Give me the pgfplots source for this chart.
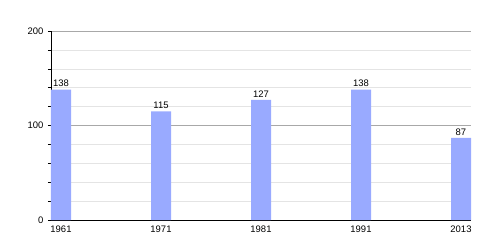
\documentclass[border=0pt]{standalone}
\usepackage{pgfplots}
\pgfplotsset{compat=1.18}
\usepackage{fontspec}
\setmainfont{Liberation Sans}
\definecolor{barblue}{HTML}{99AAFF}
\definecolor{minorgrid}{HTML}{E4E4E4}
\definecolor{majorgrid}{HTML}{A8A8A8}
\begin{document}
\begin{tikzpicture}
\begin{axis}[
  scale only axis,
  width=420bp, height=189bp,
  xmin=-0.1, xmax=4.1,
  ymin=0, ymax=200,
  xtick={0,1,2,3,4},
  xticklabels={1961,1971,1981,1991,2013},
  ytick={0,100,200},
  minor ytick={20,40,60,80,120,140,160,180},
  axis x line*=bottom,
  axis y line*=left,
  axis line style={black, line width=0.8pt},
  x axis line style={-},
  y axis line style={-},
  ymajorgrids, yminorgrids,
  major grid style={majorgrid, line width=0.6pt},
  minor grid style={minorgrid, line width=0.6pt},
  major x tick style={draw=none},
  major y tick style={black, line width=0.6pt},
  minor y tick style={black, line width=0.6pt},
  tick align=outside,
  major tick length=3bp,
  minor tick length=3bp,
  tick label style={font=\fontsize{9.5}{10}\selectfont},
  /pgf/number format/assume math mode=true,
  xticklabel style={yshift=1bp},
  yticklabel style={xshift=-1bp},
  nodes near coords,
  every node near coord/.style={font=\fontsize{9.5}{10}\selectfont, black, yshift=-1bp},
  axis on top=false,
  clip=false,
]
\addplot[ybar, bar width=20bp, fill=barblue, draw=none, bar shift=0pt] coordinates {(0,138) (1,115) (2,127) (3,138) (4,87)};
\end{axis}
\path (current axis.south west) ++(-51bp,-30bp) rectangle ++(500bp,250bp);
\end{tikzpicture}
\end{document}
